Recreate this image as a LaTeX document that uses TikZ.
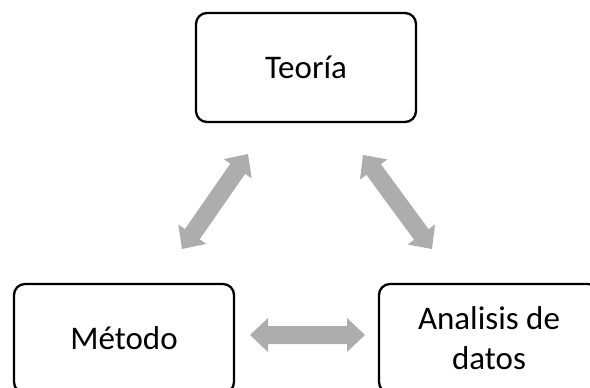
\documentclass[tikz,border=0pt]{standalone}
\usepackage{fontspec}
\setmainfont{Carlito}
\usetikzlibrary{calc}
\definecolor{arrowgray}{HTML}{ADADAD}
\tikzset{
  box/.style={draw=black, line width=2.3pt, rounded corners=11pt, fill=white,
    minimum width=220pt, minimum height=109pt, align=center, inner sep=0pt,
    font=\fontsize{33}{40}\selectfont},
  arrowfill/.style={fill=arrowgray, draw=none}
}
\newcommand\dblarr[2]{%
  \fill[arrowfill] (#1)
   -- ($(#1)!18pt!(#2)!17pt!90:(#2)$)
   -- ($(#1)!18pt!(#2)!9pt!90:(#2)$)
   -- ($(#2)!18pt!(#1)!9pt!-90:(#1)$)
   -- ($(#2)!18pt!(#1)!17pt!-90:(#1)$)
   -- (#2)
   -- ($(#2)!18pt!(#1)!17pt!90:(#1)$)
   -- ($(#2)!18pt!(#1)!9pt!90:(#1)$)
   -- ($(#1)!18pt!(#2)!9pt!-90:(#2)$)
   -- ($(#1)!18pt!(#2)!17pt!-90:(#2)$)
   -- cycle;}
\begin{document}
\begin{tikzpicture}[x=1pt,y=-1pt]
\useasboundingbox (0,0) rectangle (590,388);
\node[box] (teoria) at (306,67.5) {Teoría};
\node[box] (metodo) at (124,338.5) {Método};
\node[box] (analisis) at (489,338.5) {Analisis de\\datos};
\coordinate (a1) at (248,154);
\coordinate (a2) at (182,249);
\coordinate (b1) at (363,155);
\coordinate (b2) at (432,249);
\coordinate (c1) at (250,335);
\coordinate (c2) at (365,335);
\dblarr{a1}{a2}
\dblarr{b1}{b2}
\dblarr{c1}{c2}
\end{tikzpicture}
\end{document}
